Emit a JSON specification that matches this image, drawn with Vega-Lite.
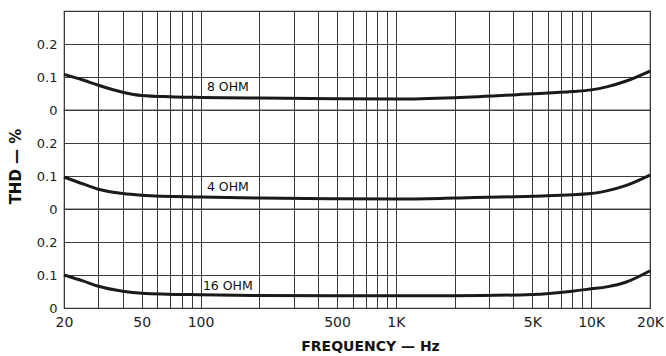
{
  "$schema": "https://vega.github.io/schema/vega-lite/v6.json",
  "padding": {"left": 7, "top": 10, "right": 4, "bottom": 0},
  "background": "white",
  "spacing": 0,
  "bounds": "flush",
  "config": {
    "view": {"stroke": "#3a3a36", "strokeWidth": 1.2},
    "font": "DejaVu Sans",
    "axis": {
      "gridColor": "#3a3a36", "gridOpacity": 1, "gridWidth": 1,
      "domain": false, "ticks": false,
      "labelFont": "DejaVu Sans", "labelColor": "#222", "labelFontSize": 13,
      "titleFont": "DejaVu Sans", "titleColor": "#111", "titleFontWeight": "bold", "titleFontSize": 15
    },
    "text": {"font": "DejaVu Sans"}
  },
  "datasets": {
    "curves": [
      {"freq": 20, "thd": 0.108, "load": "8"},
      {"freq": 25, "thd": 0.091, "load": "8"},
      {"freq": 30, "thd": 0.075, "load": "8"},
      {"freq": 40, "thd": 0.054, "load": "8"},
      {"freq": 50, "thd": 0.044, "load": "8"},
      {"freq": 70, "thd": 0.04, "load": "8"},
      {"freq": 100, "thd": 0.038, "load": "8"},
      {"freq": 200, "thd": 0.036, "load": "8"},
      {"freq": 500, "thd": 0.034, "load": "8"},
      {"freq": 1000, "thd": 0.033, "load": "8"},
      {"freq": 2000, "thd": 0.037, "load": "8"},
      {"freq": 5000, "thd": 0.049, "load": "8"},
      {"freq": 8000, "thd": 0.056, "load": "8"},
      {"freq": 10000, "thd": 0.061, "load": "8"},
      {"freq": 12000, "thd": 0.07, "load": "8"},
      {"freq": 15000, "thd": 0.087, "load": "8"},
      {"freq": 20000, "thd": 0.118, "load": "8"},
      {"freq": 20, "thd": 0.097, "load": "4"},
      {"freq": 25, "thd": 0.076, "load": "4"},
      {"freq": 30, "thd": 0.06, "load": "4"},
      {"freq": 40, "thd": 0.047, "load": "4"},
      {"freq": 50, "thd": 0.042, "load": "4"},
      {"freq": 100, "thd": 0.036, "load": "4"},
      {"freq": 200, "thd": 0.033, "load": "4"},
      {"freq": 500, "thd": 0.031, "load": "4"},
      {"freq": 1000, "thd": 0.03, "load": "4"},
      {"freq": 2000, "thd": 0.033, "load": "4"},
      {"freq": 5000, "thd": 0.039, "load": "4"},
      {"freq": 10000, "thd": 0.047, "load": "4"},
      {"freq": 12000, "thd": 0.055, "load": "4"},
      {"freq": 15000, "thd": 0.071, "load": "4"},
      {"freq": 20000, "thd": 0.103, "load": "4"},
      {"freq": 20, "thd": 0.1, "load": "16"},
      {"freq": 25, "thd": 0.082, "load": "16"},
      {"freq": 30, "thd": 0.066, "load": "16"},
      {"freq": 40, "thd": 0.051, "load": "16"},
      {"freq": 50, "thd": 0.045, "load": "16"},
      {"freq": 100, "thd": 0.04, "load": "16"},
      {"freq": 200, "thd": 0.038, "load": "16"},
      {"freq": 500, "thd": 0.037, "load": "16"},
      {"freq": 1000, "thd": 0.037, "load": "16"},
      {"freq": 2000, "thd": 0.037, "load": "16"},
      {"freq": 5000, "thd": 0.041, "load": "16"},
      {"freq": 8000, "thd": 0.051, "load": "16"},
      {"freq": 10000, "thd": 0.058, "load": "16"},
      {"freq": 12000, "thd": 0.064, "load": "16"},
      {"freq": 15000, "thd": 0.078, "load": "16"},
      {"freq": 20000, "thd": 0.113, "load": "16"}
    ],
    "labels": [
      {"freq": 138, "thd": 0.069, "load": "8", "text": "8 OHM"},
      {"freq": 138, "thd": 0.067, "load": "4", "text": "4 OHM"},
      {"freq": 138, "thd": 0.067, "load": "16", "text": "16 OHM"}
    ]
  },
  "vconcat": [
    {
      "width": 586, "height": 99,
      "layer": [
        {
          "data": {"name": "curves"},
          "transform": [{"filter": "datum.load == '8'"}],
          "mark": {"type": "line", "interpolate": "monotone", "color": "#1a1a1a", "strokeWidth": 3},
          "encoding": {
            "x": {"field": "freq", "type": "quantitative", "scale": {"type": "log", "domain": [20, 20000], "nice": false},
              "axis": {"values": [20,30,40,50,60,70,80,90,100,200,300,400,500,600,700,800,900,1000,2000,3000,4000,5000,6000,7000,8000,9000,10000,20000], "labels": false, "title": null}},
            "y": {"field": "thd", "type": "quantitative", "scale": {"domain": [0, 0.3], "nice": false},
              "axis": {"values": [0, 0.1, 0.2], "title": null, "labelPadding": 7,
                "labelExpr": "datum.value == 0 ? '0' : format(datum.value, '.1f')"}}
          }
        },
        {
          "data": {"name": "labels"},
          "transform": [{"filter": "datum.load == '8'"}],
          "mark": {"type": "text", "fontSize": 12.5, "color": "#111", "align": "center", "baseline": "middle"},
          "encoding": {
            "x": {"field": "freq", "type": "quantitative"},
            "y": {"field": "thd", "type": "quantitative"},
            "text": {"field": "text"}
          }
        }
      ]
    },
    {
      "width": 586, "height": 99,
      "layer": [
        {
          "data": {"name": "curves"},
          "transform": [{"filter": "datum.load == '4'"}],
          "mark": {"type": "line", "interpolate": "monotone", "color": "#1a1a1a", "strokeWidth": 3},
          "encoding": {
            "x": {"field": "freq", "type": "quantitative", "scale": {"type": "log", "domain": [20, 20000], "nice": false},
              "axis": {"values": [20,30,40,50,60,70,80,90,100,200,300,400,500,600,700,800,900,1000,2000,3000,4000,5000,6000,7000,8000,9000,10000,20000], "labels": false, "title": null}},
            "y": {"field": "thd", "type": "quantitative", "scale": {"domain": [0, 0.3], "nice": false},
              "axis": {"values": [0, 0.1, 0.2], "title": "THD — %", "labelPadding": 7,
                "titleX": -49, "titleY": 56, "titleAngle": -90, "titleAlign": "center", "titleBaseline": "middle",
                "labelExpr": "datum.value == 0 ? '0' : format(datum.value, '.1f')"}}
          }
        },
        {
          "data": {"name": "labels"},
          "transform": [{"filter": "datum.load == '4'"}],
          "mark": {"type": "text", "fontSize": 12.5, "color": "#111", "align": "center", "baseline": "middle"},
          "encoding": {
            "x": {"field": "freq", "type": "quantitative"},
            "y": {"field": "thd", "type": "quantitative"},
            "text": {"field": "text"}
          }
        }
      ]
    },
    {
      "width": 586, "height": 99,
      "layer": [
        {
          "data": {"name": "curves"},
          "transform": [{"filter": "datum.load == '16'"}],
          "mark": {"type": "line", "interpolate": "monotone", "color": "#1a1a1a", "strokeWidth": 3},
          "encoding": {
            "x": {"field": "freq", "type": "quantitative", "scale": {"type": "log", "domain": [20, 20000], "nice": false},
              "axis": {"values": [20,30,40,50,60,70,80,90,100,200,300,400,500,600,700,800,900,1000,2000,3000,4000,5000,6000,7000,8000,9000,10000,20000],
                "labelOverlap": false, "labelBound": false, "labelFlush": false, "labelPadding": 7, "labelFontSize": 14,
                "labelExpr": "indexof([20,50,100,500,1000,5000,10000,20000], datum.value) >= 0 ? (datum.value >= 1000 ? (datum.value / 1000) + 'K' : '' + datum.value) : ''",
                "title": "FREQUENCY — Hz", "titleX": 306, "titleY": 38, "titleFontSize": 14, "titleAlign": "center", "titleBaseline": "middle"}},
            "y": {"field": "thd", "type": "quantitative", "scale": {"domain": [0, 0.3], "nice": false},
              "axis": {"values": [0, 0.1, 0.2], "title": null, "labelPadding": 7,
                "labelExpr": "datum.value == 0 ? '0' : format(datum.value, '.1f')"}}
          }
        },
        {
          "data": {"name": "labels"},
          "transform": [{"filter": "datum.load == '16'"}],
          "mark": {"type": "text", "fontSize": 12.5, "color": "#111", "align": "center", "baseline": "middle"},
          "encoding": {
            "x": {"field": "freq", "type": "quantitative"},
            "y": {"field": "thd", "type": "quantitative"},
            "text": {"field": "text"}
          }
        }
      ]
    }
  ]
}
